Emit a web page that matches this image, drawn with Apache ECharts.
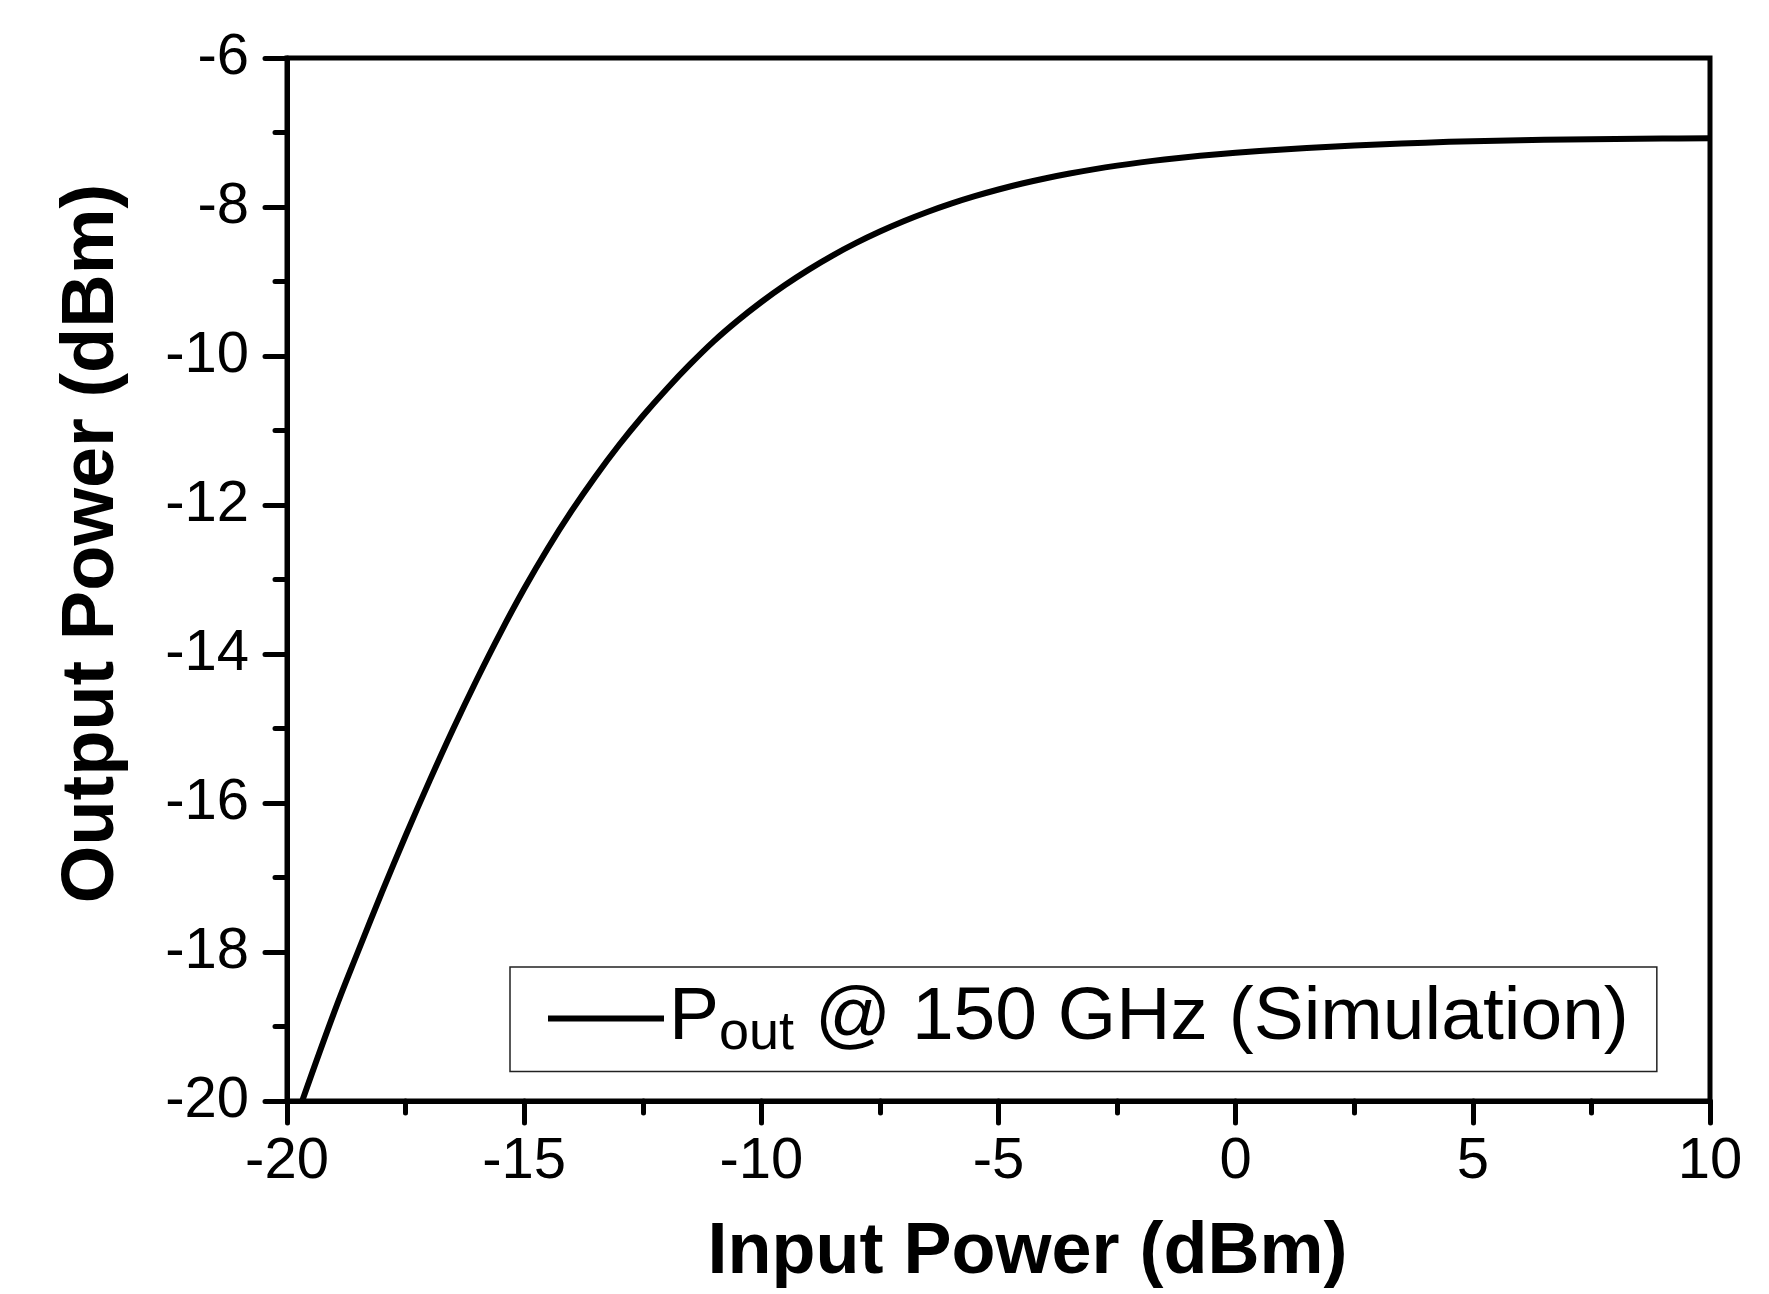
<!DOCTYPE html>
<html>
<head>
<meta charset="utf-8">
<script src="https://cdn.jsdelivr.net/npm/echarts@6/dist/echarts.min.js"></script>
<style>
html,body{margin:0;padding:0;background:#fff;}
#chart{width:1769px;height:1294px;}
</style>
</head>
<body>
<div id="chart"></div>
<script>
// Input power (dBm)
var inputPower = [-19.68, -19, -18.5, -18, -17.5, -17, -16.5, -16, -15.5, -15, -14.5, -14, -13.5, -13, -12.5, -12, -11.5, -11, -10.5, -10, -9.5, -9, -8.5, -8, -7.5, -7, -6.5, -6, -5.5, -5, -4.5, -4, -3.5, -3, -2.5, -2, -1.5, -1, -0.5, 0, 1, 2, 3, 4, 5, 6, 7, 8, 9, 10];
// Output power (dBm), simulation at 150 GHz
var outputPower = [-20.0, -18.80, -17.99, -17.20, -16.44, -15.71, -15.01, -14.345, -13.715, -13.125, -12.58, -12.08, -11.62, -11.195, -10.805, -10.445, -10.11, -9.80, -9.525, -9.275, -9.047, -8.84, -8.652, -8.482, -8.329, -8.191, -8.067, -7.955, -7.855, -7.765, -7.685, -7.614, -7.551, -7.495, -7.445, -7.401, -7.362, -7.328, -7.298, -7.272, -7.227, -7.19, -7.16, -7.136, -7.117, -7.103, -7.093, -7.086, -7.081, -7.077];
var seriesName = 'Pout @ 150 GHz (Simulation)';
var xTitle = 'Input Power (dBm)';
var yTitle = 'Output Power (dBm)';

var pts = inputPower.map(function (x, i) { return [x, outputPower[i]]; });
var FONT = '"Liberation Sans", Arial, sans-serif';

var chart = echarts.init(document.getElementById('chart'), null, {renderer: 'canvas'});
chart.setOption({
  backgroundColor: '#fff',
  animation: false,
  grid: {
    left: 287, right: 59, top: 58, bottom: 190,
    show: true, borderColor: '#000', borderWidth: 5, backgroundColor: 'transparent'
  },
  legend: {
    left: 510, top: 967,
    orient: 'horizontal',
    borderColor: '#222', borderWidth: 1.5,
    padding: [14, 28, 10, 38],
    icon: 'rect',
    itemWidth: 116, itemHeight: 6,
    itemStyle: {color: '#000'},
    formatter: function () { return '{p|P}{sub|out}{p| @ 150 GHz (Simulation)}'; },
    textStyle: {
      color: '#000', fontFamily: FONT, fontSize: 75,
      rich: {
        p: {fontSize: 75, lineHeight: 86, fontFamily: FONT, color: '#000'},
        sub: {fontSize: 54, lineHeight: 54, verticalAlign: 'bottom', fontFamily: FONT, color: '#000'}
      }
    },
    data: [{name: seriesName}]
  },
  xAxis: {
    type: 'value', min: -20, max: 10, interval: 5,
    name: xTitle, nameLocation: 'middle', nameGap: 116,
    nameTextStyle: {fontFamily: FONT, fontSize: 72, fontWeight: 'bold', color: '#000', padding: [0, 0, 0, 58]},
    axisLine: {show: true, onZero: false, lineStyle: {color: '#000', width: 5}},
    axisTick: {show: true, inside: false, length: 22, lineStyle: {color: '#000', width: 5, cap: 'round'}},
    minorTick: {show: true, splitNumber: 2, length: 12, lineStyle: {color: '#000', width: 5, cap: 'round'}},
    axisLabel: {fontFamily: FONT, fontSize: 58, color: '#000', margin: 32},
    splitLine: {show: false}
  },
  yAxis: {
    type: 'value', min: -20, max: -6, interval: 2,
    name: yTitle, nameLocation: 'middle', nameGap: 157,
    nameTextStyle: {fontFamily: FONT, fontSize: 74, fontWeight: 'bold', color: '#000', padding: [0, 0, 0, 72]},
    axisLine: {show: true, onZero: false, lineStyle: {color: '#000', width: 5}},
    axisTick: {show: true, inside: false, length: 22, lineStyle: {color: '#000', width: 5, cap: 'round'}},
    minorTick: {show: true, splitNumber: 2, length: 12, lineStyle: {color: '#000', width: 5, cap: 'round'}},
    axisLabel: {fontFamily: FONT, fontSize: 58, color: '#000', margin: 38},
    splitLine: {show: false}
  },
  series: [{
    name: seriesName,
    type: 'line',
    data: pts,
    smooth: 0.4,
    showSymbol: false,
    symbol: 'none',
    clip: true,
    lineStyle: {color: '#000', width: 6},
    itemStyle: {color: '#000'}
  }]
});
</script>
</body>
</html>
